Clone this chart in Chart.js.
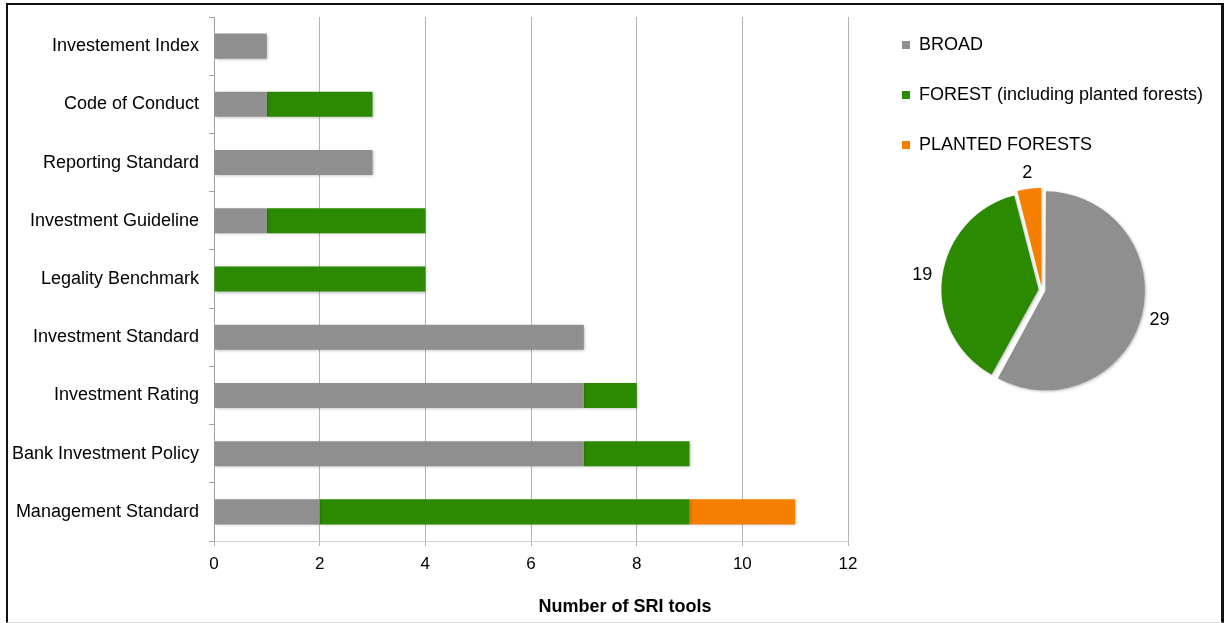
<!DOCTYPE html>
<html>
<head>
<meta charset="utf-8">
<title>SRI tools</title>
<script src="https://cdn.jsdelivr.net/npm/chart.js@4.4.1/dist/chart.umd.min.js"></script>
<style>
  html, body { margin: 0; padding: 0; background: #fff; }
  body { width: 1225px; height: 623px; position: relative; overflow: hidden; }
  #frame {
    position: absolute; left: 6px; top: 3px; width: 1213px; height: 617px;
    border-top: 2px solid #111; border-left: 2px solid #111;
    border-right: 3px solid #111; border-bottom: 1px solid #ddd;
  }
  #bar { position: absolute; left: 0; top: 0; }
  #pie { position: absolute; left: 870px; top: 4px; }
</style>
</head>
<body>
<div id="frame"></div>
<canvas id="bar" width="1225" height="623"></canvas>
<canvas id="pie" width="344" height="417"></canvas>
<script>
// categories, top to bottom
const categories = [
  'Investement Index', 'Code of Conduct', 'Reporting Standard',
  'Investment Guideline', 'Legality Benchmark', 'Investment Standard',
  'Investment Rating', 'Bank Investment Policy', 'Management Standard'
];
const seriesNames = ['BROAD', 'FOREST (including planted forests)', 'PLANTED FORESTS'];
const broad   = [1, 1, 3, 1, 0, 7, 7, 7, 2];
const forest  = [0, 2, 0, 3, 4, 0, 1, 2, 7];
const planted = [0, 0, 0, 0, 0, 0, 0, 0, 2];
const totals  = [29, 19, 2];
const xTicks  = [0, 2, 4, 6, 8, 10, 12];
const colors  = ['#8f8f8f', '#2b8a00', '#f77f00'];
const xTitle  = 'Number of SRI tools';

const FONT = '"Liberation Sans", Arial, Helvetica, sans-serif';
Chart.defaults.font.family = FONT;
Chart.defaults.color = '#000';

// soft drop shadow under the marks
const shadow = {
  id: 'shadow',
  beforeDatasetsDraw(chart) {
    const c = chart.ctx;
    c.save();
    c.shadowColor = 'rgba(0,0,0,0.28)';
    c.shadowBlur = 3;
    c.shadowOffsetX = 1;
    c.shadowOffsetY = 1;
  },
  afterDatasetsDraw(chart) { chart.ctx.restore(); }
};

// axis title sits right of the plot centre
const axisTitle = {
  id: 'axisTitle',
  afterDraw(chart) {
    const c = chart.ctx;
    c.save();
    c.font = 'bold 18px ' + FONT;
    c.fillStyle = '#000';
    c.textAlign = 'center';
    c.textBaseline = 'middle';
    c.fillText(xTitle, 625, 607);
    c.restore();
  }
};

new Chart(document.getElementById('bar'), {
  type: 'bar',
  data: {
    labels: categories,
    datasets: [broad, forest, planted].map((d, i) => ({
      label: seriesNames[i],
      data: d,
      backgroundColor: colors[i],
      borderWidth: 0,
      barPercentage: 0.43,
      categoryPercentage: 1
    }))
  },
  options: {
    indexAxis: 'y',
    responsive: false,
    animation: false,
    layout: { padding: { top: 17, right: 377, left: 0, bottom: 0 } },
    plugins: { legend: { display: false }, tooltip: { enabled: false } },
    scales: {
      x: {
        stacked: true, min: 0, max: 12,
        afterBuildTicks: s => { s.ticks = xTicks.map(v => ({ value: v })); },
        afterFit: s => { s.height = 82; },
        grid: { color: '#b4b4b4', tickLength: 5 },
        border: { color: '#d0d0d0' },
        ticks: { font: { size: 17 }, padding: 8, color: '#000' }
      },
      y: {
        stacked: true,
        afterFit: s => { s.width = 214; s.paddingTop = 0; s.paddingBottom = 0; },
        grid: { offset: true, drawOnChartArea: false, tickLength: 5, color: '#a0a0a0' },
        border: { color: '#a0a0a0' },
        ticks: { font: { size: 18 }, padding: 10, color: '#000' }
      }
    }
  },
  plugins: [shadow, axisTitle]
});

// value labels just outside each slice
const sliceLabels = {
  id: 'sliceLabels',
  afterDatasetsDraw(chart) {
    const c = chart.ctx;
    const meta = chart.getDatasetMeta(0);
    c.save();
    c.font = '18px ' + FONT;
    c.fillStyle = '#000';
    c.textAlign = 'center';
    c.textBaseline = 'middle';
    meta.data.forEach((arc, i) => {
      const p = arc.getProps(['x', 'y', 'startAngle', 'endAngle', 'outerRadius']);
      const a = (p.startAngle + p.endAngle) / 2;
      const txt = String(chart.data.datasets[0].data[i]);
      const w = c.measureText(txt).width;
      const ext = Math.abs(Math.cos(a)) * w / 2 + Math.abs(Math.sin(a)) * 7;
      const r = p.outerRadius + 7 + 7 + ext;
      c.fillText(txt, p.x + Math.cos(a) * r, p.y + Math.sin(a) * r);
    });
    c.restore();
  }
};

new Chart(document.getElementById('pie'), {
  type: 'pie',
  data: {
    labels: seriesNames,
    datasets: [{
      data: totals,
      backgroundColor: colors,
      borderWidth: 0,
      offset: 14,
      radius: 96,
      clip: false
    }]
  },
  options: {
    responsive: false,
    animation: false,
    layout: { padding: { bottom: 5 } },
    plugins: {
      tooltip: { enabled: false },
      legend: {
        position: 'top',
        align: 'start',
        labels: {
          boxWidth: 8, boxHeight: 8, padding: 32,
          font: { size: 18 }, color: '#000'
        }
      }
    }
  },
  plugins: [shadow, sliceLabels]
});
</script>
</body>
</html>
